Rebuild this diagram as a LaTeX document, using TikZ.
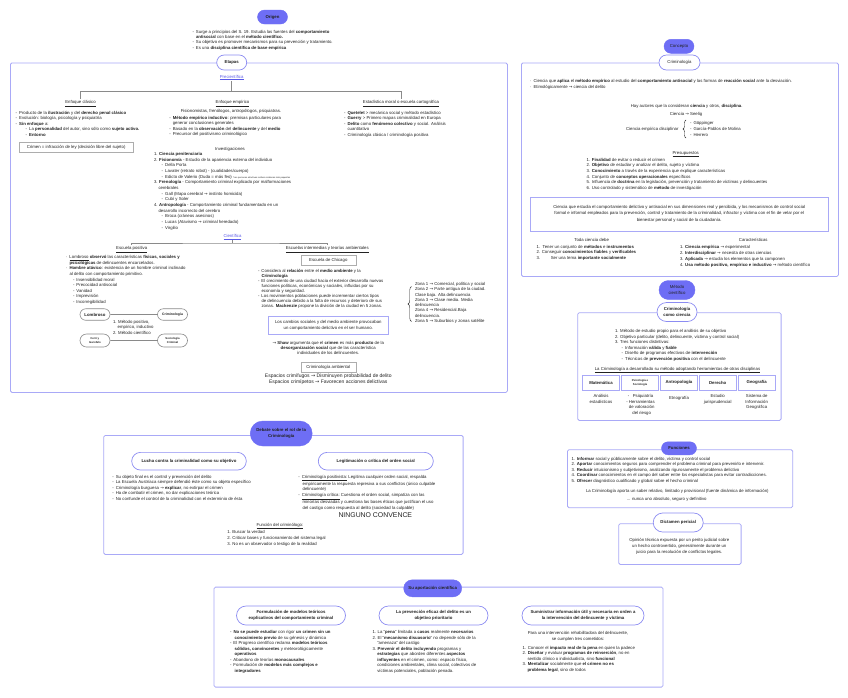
\documentclass[tikz,border=0pt]{standalone}
\usepackage{fontspec}
\setmainfont{Liberation Sans}
\newfontfamily\arrf{DejaVu Sans}
\usetikzlibrary{shapes.misc,decorations.pathreplacing}
\definecolor{pillfill}{HTML}{6E6EF5}
\definecolor{pillline}{HTML}{8C8CF2}
\definecolor{boxline}{HTML}{A9A9F7}
\definecolor{ink}{HTML}{222222}
\definecolor{linkc}{HTML}{5858E8}
\definecolor{greyline}{HTML}{8A8A8A}
\newcommand\ra{{\arrf\char"2192}}
\newcommand\fsz{\fontsize{4.3}{5.5}\selectfont}
\newcommand\bu{\makebox[3.5pt][l]{-}}
\newcommand\dt{\makebox[3.5pt][l]{·}}
\newcommand\ind[1]{\hspace*{#1pt}}
\begin{document}
\begin{tikzpicture}[x=1pt,y=-1pt,
  fpill/.style={rounded rectangle, fill=pillfill, draw=pillfill, text=ink, font=\fsz\bfseries, inner sep=1pt, align=center},
  wpill/.style={rounded rectangle, fill=white, draw=pillline, line width=0.7pt, text=ink, font=\fsz\bfseries, inner sep=1pt, align=center},
  gpill/.style={rounded rectangle, fill=white, draw=greyline, line width=0.6pt, text=ink, font=\fsz\bfseries, inner sep=1pt, align=center},
  bigframe/.style={draw=boxline, line width=0.8pt, rounded corners=1.5pt, inner sep=0pt, anchor=north west},
  gbox/.style={draw=greyline!70, line width=0.5pt, fill=white, font=\fsz, text=ink, inner sep=1pt},
  lbox/.style={draw=boxline, line width=0.6pt, font=\fsz, text=ink, align=center, inner sep=1pt},
  mbox/.style={draw=boxline, line width=0.7pt, font=\fsz\bfseries, text=ink, align=center, inner sep=0.5pt, minimum width=36.6pt, minimum height=14.3pt},
  txt/.style={inner sep=0pt, outer sep=0pt, font=\fsz, text=ink, align=left, anchor=north west},
  ctxt/.style={inner sep=0pt, outer sep=0pt, font=\fsz, text=ink, align=center},
  linktxt/.style={ctxt, text=linkc},
  mytree/.style={draw=greyline, line width=0.9pt},
  thinline/.style={draw=greyline, line width=0.6pt},
  bracestyle/.style={draw=ink, line width=0.4pt, decorate, decoration={brace, amplitude=3.5pt}}
]
\useasboundingbox (0,0) rectangle (848,697);
\fill[white] (0,0) rectangle (848,697);

% ===== ORIGEN =====
\node[fpill, minimum width=32pt, minimum height=14pt] (origen) at (272.5,17) {Origen};
\node[txt, font=\fontsize{4.3}{5.3}\selectfont] (origentxt) at (192.5,30.2) {%
\bu Surge a principios del S. 19. Estudia las fuentes del \textbf{comportamiento}\\
\ind{3.5}\textbf{antisocial} con base en el \textbf{método científico.}\\
\bu Su objetivo es promover mecanismos para su prevención y tratamiento.\\
\bu Es una \textbf{disciplina científica de base empírica}};

% ===== ETAPAS =====
\node[bigframe, minimum width=497pt, minimum height=329.5pt] (etapasbox) at (10,62.5) {};
\node[wpill, minimum width=32pt, minimum height=15pt] (etapas) at (231.7,62.5) {Etapas};
\node[linktxt] (precient) at (231.7,77.6) {\underline{Precientífica}};
\coordinate (t1) at (231.7,91.5);
\node[ctxt] (clasico) at (80.5,103.5) {\underline{Enfoque clásico}};
\node[ctxt] (empirico) at (232.5,103.5) {\underline{Enfoque empírico}};
\node[ctxt] (estad) at (401,103.5) {\underline{Estadística moral o escuela cartográfica}};
\draw[mytree, shorten <=1pt] (precient.south) -- (t1);
\draw[mytree, shorten <=1.5pt, shorten >=1.5pt] (clasico.north) |- (t1) -| (estad.north);

\node[txt] (clasicotxt) at (15.7,111.3) {%
\bu Producto de la \textbf{ilustración} y del \textbf{derecho penal clásico}\\
\bu Evolución: biología, psicología y psiquiatría\\
\bu \textbf{Sin enfoque} a:\\
\ind{10}\bu La \textbf{personalidad} del autor, sino sólo como \textbf{sujeto activo.}\\
\ind{10}\bu \textbf{Entorno}};
\node[gbox, minimum width=114pt, minimum height=9.5pt] (crimenbox) at (76.2,147.2) {Crimen = infracción de ley (decisión libre del sujeto)};

\node[ctxt] (fisio) at (231,111.8) {Fisionomistas, frenólogos, antropólogos, psiquiatras.};
\node[txt] (empiricotxt) at (169.3,116.3) {%
\bu \textbf{Método empírico inductivo}: premisas particulares para\\
\ind{3.5}generar conclusiones generales\\
\bu Basado en la \textbf{observación} del \textbf{delincuente} y del \textbf{medio}\\
\bu Precursor del positivismo criminológico};

\node[txt] (estadtxt) at (344,111.3) {%
\bu \textbf{Quetelet} > mecánica social y método estadístico\\
\bu \textbf{Guerry} > Primero mapas criminalidad en Europa\\
\bu \textbf{Delito} como \textbf{fenómeno colectivo} y social. Análisis\\
\ind{3.5}cuantitativo\\
\bu Criminología clásica / criminología positiva};

\node[ctxt] (invest) at (230,149.3) {Investigaciones};
\node[txt, font=\fontsize{4.3}{5.65}\selectfont] (investtxt) at (154,152.5) {%
1. \textbf{Ciencia penitenciaria}\\
2. \textbf{Fisionomía} - Estudio de la apariencia externa del individuo\\
\ind{7.7}\bu Della Porta\\
\ind{7.7}\bu Lavater (retrato robot) - (cualidades/cuerpo)\\
\ind{7.7}\bu Edicto de Valerio (Duda = más feo) {\fontsize{2.2}{3}\selectfont *Las personas atractivas reciben condenas más pequeñas}\\
3. \textbf{Frenología} - Comportamiento criminal explicado por malformaciones\\
\ind{4.5}cerebrales\\
\ind{7.7}\bu Gall (Mapa cerebral \ra{} instinto homicida)\\
\ind{7.7}\bu Cubí y Soler\\
4. \textbf{Antropología} - Comportamiento criminal fundamentado en un\\
\ind{4.5}desarrollo incorrecto del cerebro\\
\ind{7.7}\bu Broca (cráneos asesinos)\\
\ind{7.7}\bu Lucas (Atavismo \ra{} criminal heredado)\\
\ind{7.7}\bu Virgilio};

\node[linktxt] (cient) at (232.5,236.7) {\underline{Científica}};
\coordinate (t2) at (232.5,243);
\node[ctxt] (epos) at (131.7,249.3) {\underline{Escuela positiva}};
\node[ctxt] (einter) at (327.3,249.3) {\underline{Escuelas intermedias y teorías ambientales}};
\draw[mytree, shorten <=1pt] (cient.south) -- (t2);
\draw[mytree, shorten <=1.5pt, shorten >=1.5pt] (epos.north) |- (t2) -| (einter.north);

\node[txt, font=\fontsize{4.3}{5.6}\selectfont] (epostxt) at (66,255.5) {%
\dt\underline{Lombroso} \textbf{observó} las características \textbf{físicas, sociales y}\\
\ind{3.5}\textbf{psicológicas} de delincuentes encarcelados.\\
\dt\textbf{Hombre atávico}: existencia de un hombre criminal inclinado\\
\ind{3.5}al delito con comportamiento primitivo.\\
\ind{7}\bu Insensibilidad moral\\
\ind{7}\bu Precocidad antisocial\\
\ind{7}\bu Vanidad\\
\ind{7}\bu Imprevisión\\
\ind{7}\bu Incorregibilidad};

\node[gpill, minimum width=32pt, minimum height=11.5pt] (lombroso) at (95,314.5) {Lombroso};
\node[gpill, minimum width=32pt, minimum height=11.5pt, font=\fontsize{3.4}{4}\selectfont\bfseries] (crimi) at (172.5,314.5) {Criminología};
\node[gpill, minimum width=32pt, minimum height=13pt, font=\fontsize{2.8}{3.3}\selectfont\bfseries] (ferri) at (95,340.5) {Ferri y\\Garofalo};
\node[gpill, minimum width=32pt, minimum height=13pt, font=\fontsize{2.8}{3.3}\selectfont\bfseries] (socio) at (172.5,340.5) {Sociología\\Criminal};
\draw[thinline] (lombroso) -- (crimi);
\draw[thinline] (ferri) -- (socio);
\node[txt, font=\fontsize{4.3}{5.65}\selectfont] (metodos) at (113,319.9) {%
1. Método positivo,\\
\ind{4.7}empírico, inductivo\\
2. Método científico};

\node[gbox, minimum width=55pt, minimum height=10pt] (chicago) at (328.3,260) {Escuela de Chicago};
\node[txt, font=\fontsize{4.3}{4.95}\selectfont] (chicagotxt) at (258,269.2) {%
\bu Considera al \textbf{relación} entre el \textbf{medio ambiente} y la\\
\ind{3.5}\textbf{Criminología}\\
\bu El crecimiento de una ciudad hacia el exterior desarrolla nuevas\\
\ind{3.5}funciones políticas, económicas y sociales, influidas por su\\
\ind{3.5}economía y seguridad.\\
\bu Los movimientos poblaciones puede incrementar ciertos tipos\\
\ind{3.5}de delincuencia debido a la falta de recursos y deterioro de sus\\
\ind{3.5}zonas. \textbf{Mackenzie} propone la división de la ciudad en 5 zonas.};

\node[lbox, minimum width=120pt, minimum height=18pt, font=\fontsize{4.3}{6}\selectfont] (cambios) at (328.3,325) {Los cambios sociales y del medio ambiente provocaban\\un comportamiento delictivo en el ser humano.};
\node[ctxt, font=\fontsize{4.3}{5}\selectfont] (shaw) at (328.3,347.5) {\ra{} \textbf{Shaw} argumenta que el \textbf{crimen} es más \textbf{producto} de la\\\textbf{desorganización social} que de las característica\\individuales de los delincuentes.};
\node[gbox, minimum width=55pt, minimum height=10pt] (ambiental) at (328.3,367.7) {Criminología ambiental};
\node[ctxt, font=\fontsize{5}{5.4}\selectfont] (espacios) at (328.3,379.3) {Espacios crimífugos \ra{} Disminuyen probabilidad de delito\\Espacios crimípetos \ra{} Favorecen acciones delictivas};

\coordinate (zb1) at (411.5,321.5);
\coordinate (zb2) at (411.5,286.5);
\draw[bracestyle] (zb1) -- (zb2);
\node[txt, font=\fontsize{4.3}{5.3}\selectfont] (zonas) at (415,282.3) {%
Zona 1 \ra{} Comercial, política y social\\
Zona 2 \ra{} Parte antigua de la ciudad.\\
Clase baja. Alta delincuencia\\
Zona 3 \ra{} Clase media. Media\\
delincuencia\\
Zona 4 \ra{} Residencial.Baja\\
delincuencia.\\
Zona 5 \ra{} Suburbios y zonas satélite};

% ===== CONCEPTO =====
\node[fpill, minimum width=32pt, minimum height=14pt, font=\fsz] (concepto) at (679,46.3) {Concepto};
\node[bigframe, minimum width=317pt, minimum height=213.5pt] (conceptobox) at (521,62.5) {};
\node[wpill, minimum width=43pt, minimum height=15pt, font=\fsz] (criminologia) at (679.5,62.5) {Criminología};
\node[txt, font=\fontsize{4.3}{6}\selectfont] (defs) at (530,78.9) {%
\dt Ciencia que \textbf{aplica} el \textbf{método empírico} al estudio del \textbf{comportamiento antisocial} y las formas de \textbf{reacción social} ante la desviación.\\
\dt Etimológicamente \ra{} ciencia del delito};
\node[ctxt] (autores) at (686.7,106) {Hay autores que la consideran \textbf{ciencia} y otros, \textbf{disciplina}.};
\node[ctxt] (seelig) at (686,114.3) {Ciencia \ra{} Seelig};
\node[ctxt, anchor=east] (cedisc) at (678.5,129) {Ciencia empírica disciplinar};
\coordinate (cb1) at (686,138);
\coordinate (cb2) at (686,120);
\draw[bracestyle, decoration={brace, amplitude=3pt}] (cb1) -- (cb2);
\node[txt, font=\fontsize{4.3}{5.85}\selectfont] (autoreslist) at (690,121.5) {%
\bu Göppinger\\
\bu García-Pablos de Molina\\
\bu Herrero};
\node[ctxt] (presup) at (685.7,154) {\underline{Presupuestos}};
\node[txt, font=\fontsize{4.3}{5.65}\selectfont] (presuplist) at (586.7,158.2) {%
1. \textbf{Finalidad} de evitar o reducir el crimen\\
2. \textbf{Objetivo} de estudiar y analizar el delito, sujeto y víctima\\
3. \textbf{Conocimiento} a través de la experiencia que explique características\\
4. Conjunto de \textbf{conceptos operacionales} específicos\\
5. Influencia de \textbf{doctrina} en la legislación, prevención y tratamiento de víctimas y delincuentes\\
6. Uso controlado y sistemático de \textbf{método} de investigación};
\node[lbox, minimum width=298.3pt, minimum height=34pt, font=\fontsize{4.3}{6.3}\selectfont, line width=0.4pt] (defbox) at (679.2,213.7) {Ciencia que estudia el comportamiento delictivo y antisocial en sus dimensiones real y percibida, y los mecanismos de control social\\formal e informal empleados para la prevención, control y tratamiento de la criminalidad, infractor y víctima con el fin de velar por el\\bienestar personal y social de la ciudadanía.};
\node[ctxt] (toda) at (591.7,240) {Toda ciencia debe};
\node[txt, font=\fontsize{4.3}{5.8}\selectfont] (todalist) at (536.7,244.9) {%
1.\ \ Tener un conjunto de \textbf{métodos} e \textbf{instrumentos}\\
2. Conseguir \textbf{conocimientos fiables} y \textbf{verificables}\\
3.\hspace{10.5pt}Ser una tema \textbf{importante socialmente}};
\node[ctxt] (caract) at (753.3,240) {Características};
\node[txt, font=\fontsize{4.3}{6.1}\selectfont] (caractlist) at (680,244.9) {%
1. \textbf{Ciencia empírica} \ra{} experimental\\
2. \textbf{Interdisciplinar} \ra{} necesita de otras ciencias\\
3. \textbf{Aplicada} \ra{} estudia los elementos que la componen\\
4. \textbf{Usa método positivo, empírico e inductivo} \ra{} método científico};

% ===== METODO CIENTIFICO =====
\node[fpill, minimum width=38pt, minimum height=19pt, font=\fontsize{4.3}{5.2}\selectfont] (metodo) at (677,290) {Método\\científico};
\node[bigframe, minimum width=203.4pt, minimum height=107.7pt] (metodobox) at (577.3,312.3) {};
\node[wpill, minimum width=42pt, minimum height=19pt, font=\fontsize{4.3}{5.2}\selectfont\bfseries] (comociencia) at (677,312) {Criminología\\como ciencia};
\node[txt, font=\fontsize{4.3}{5.65}\selectfont] (metodolist) at (615,329.2) {%
1. Método de estudio propio para el análisis de su objetivo\\
2. Objetivo particular (delito, delincuente, víctima y control social)\\
3. Tres funciones distintivas:\\
\ind{6.7}\bu Información \textbf{válida} y \textbf{fiable}\\
\ind{6.7}\bu Diseño de programas efectivos de \textbf{intervención}\\
\ind{6.7}\bu Técnicas de \textbf{prevención positiva} con el delincuente};
\node[ctxt] (adopta) at (677.5,370) {\underline{La Criminología a desarrollado su método adoptando herramientas de otras disciplinas}};
\node[mbox] (mat) at (601,382.8) {Matemática};
\node[mbox, font=\fontsize{2.8}{3.4}\selectfont\bfseries] (psico) at (640,382.8) {Psicología e\\Sociología};
\node[mbox] (antro) at (679,382.8) {Antropología};
\node[mbox] (der) at (717.7,382.8) {Derecho};
\node[mbox] (geo) at (756.7,382.8) {Geografía};
\node[ctxt, anchor=north, font=\fontsize{4.3}{5.65}\selectfont] (matt) at (601,394.3) {Análisis\\estadísticos};
\node[ctxt, anchor=north, font=\fontsize{4.3}{5.65}\selectfont] (psicot) at (640.5,394.3) {-\ \ \ Psiquiatría\\- Herramientas\\\ \ de valoración\\\ \ del riesgo};
\node[ctxt, anchor=north] (antrot) at (679,396.3) {Etnografía};
\node[ctxt, anchor=north, font=\fontsize{4.3}{5.65}\selectfont] (dert) at (717.7,394.3) {Estudio\\jurisprudencial};
\node[ctxt, anchor=north, font=\fontsize{4.3}{5.65}\selectfont] (geot) at (756.7,394.3) {Sistema de\\Información\\Geográfica};

% ===== FUNCIONES =====
\node[bigframe, minimum width=225.3pt, minimum height=58pt] (funcbox) at (567,449.3) {};
\node[fpill, minimum width=37pt, minimum height=13pt] (funciones) at (679,448.3) {Funciones};
\node[txt, font=\fontsize{4.3}{5.6}\selectfont] (funclist) at (571.7,456.9) {%
1. \textbf{Informar} social y públicamente sobre el delito, víctima y control social\\
2. \textbf{Aportar} conocimientos seguros para comprender el problema criminal para prevenirlo e intervenir.\\
3. \textbf{Reducir} intuicionismo y subjetivismo, analizando rigurosamente el problema delictivo\\
4. \textbf{Coordinar} conocimientos en el campo del saber entre los especialistas para evitar contradicciones.\\
5. \textbf{Ofrecer} diagnóstico cualificado y global sobre el hecho criminal};
\node[ctxt] (relativo) at (677.3,491.3) {La Criminología aporta un saber relativo, limitado y provisional (fuente dinámica de información)};
\node[ctxt] (nunca) at (666.7,499) {... nunca uno absoluto, seguro y definitivo};

% ===== DICTAMEN =====
\node[bigframe, minimum width=122.4pt, minimum height=40.7pt] (dictbox) at (618.3,523.3) {};
\node[wpill, minimum width=52pt, minimum height=19pt] (dictamen) at (678.2,522.5) {Dictamen pericial};
\node[ctxt, font=\fontsize{4.3}{5.8}\selectfont] (dicttxt) at (679.3,546.6) {Opinión técnica expuesta por un perito judicial sobre\\un hecho controvertido, generalmente durante un\\juicio para la resolución de conflictos legales.};

% ===== DEBATE =====
\node[bigframe, minimum width=359.4pt, minimum height=119pt] (debatebox) at (103.3,435) {};
\node[fpill, minimum width=64pt, minimum height=25pt, font=\fontsize{4.3}{5.3}\selectfont\bfseries] (debate) at (281.2,433.5) {Debate sobre el rol de la\\Criminología};
\node[wpill, minimum width=116.6pt, minimum height=17.7pt] (lucha) at (189,461.2) {Lucha contra la criminalidad como su objetivo};
\node[wpill, minimum width=117pt, minimum height=17.7pt] (legit) at (375.8,461.2) {Legitimación o crítica del orden social};
\node[txt, font=\fontsize{4.3}{5.6}\selectfont] (luchatxt) at (112.3,474.9) {%
\bu Su objeto final es el control y prevención del delito\\
\bu La Escuela Austríaca siempre defendió éste como su objeto específico\\
\bu Criminología burguesa \ra{} \textbf{explicar}, no extirpar el crimen\\
\bu Ha de combatir el crimen, no dar explicaciones teórica\\
\bu No confunde el control de la criminalidad con el exterminio de ésta};
\node[txt, font=\fontsize{4.3}{5.65}\selectfont] (legittxt) at (298.3,474.9) {%
\bu \underline{Criminología positivista:} Legitima cualquier orden social, respalda\\
\ind{4.4}empíricamente la respuesta represiva a sus conflictos (único culpable\\
\ind{4.4}delincuente)\\
\bu \underline{Criminología crítica:} Cuestiona el orden social, simpatiza con las\\
\ind{4.4}minorías desviadas y cuestiona las bases éticas que justifican el uso\\
\ind{4.4}del castigo como respuesta al delito (sociedad la culpable)};
\node[ctxt, font=\fontsize{6.9}{8}\selectfont] (ninguno) at (375.3,515.3) {NINGUNO CONVENCE};
\node[ctxt] (funcrim) at (280,526) {\underline{Función del criminólogo:}};
\node[txt, font=\fontsize{4.3}{5.85}\selectfont] (funcrimlist) at (227.3,530.5) {%
1. Buscar la verdad\\
2. Criticar bases y funcionamiento del sistema legal\\
3. No es un observador o testigo de la realidad};

% ===== SU APORTACION =====
\node[bigframe, minimum width=449pt, minimum height=100pt] (aportbox) at (213.6,586.7) {};
\node[fpill, minimum width=60pt, minimum height=17pt] (aport) at (432.7,588.3) {Su aportación científica};
\node[wpill, minimum width=111pt, minimum height=19pt, font=\fontsize{4.3}{5.5}\selectfont\bfseries] (form) at (291,615.5) {Formulación de modelos teóricos\\explicativos del comportamiento criminal};
\node[wpill, minimum width=111pt, minimum height=19pt, font=\fontsize{4.3}{5.5}\selectfont\bfseries] (prev) at (433.5,615.5) {La prevención eficaz del delito es un\\objetivo prioritario};
\node[wpill, minimum width=124pt, minimum height=19pt, font=\fontsize{4.3}{5.5}\selectfont\bfseries] (sumin) at (583,615.5) {Suministrar información útil y necesaria en orden a\\la intervención del delincuente y víctima};
\node[txt, font=\fontsize{4.3}{5.5}\selectfont] (formtxt) at (230,630.5) {%
\bu \textbf{No se puede estudiar} con rigor \textbf{un crimen sin un}\\
\ind{4.7}\textbf{conocimiento previo} de su génesis y dinámica\\
\bu El Progreso científico reclama \textbf{modelos teóricos}\\
\ind{4.7}\textbf{sólidos, convincentes} y meteorológicamente\\
\ind{4.7}\textbf{operativos}\\
\bu Abandono de teorías \textbf{monocausales}\\
\bu Formulación de \textbf{modelos más complejos e}\\
\ind{4.7}\textbf{integradores}};
\node[txt, font=\fontsize{4.3}{5.5}\selectfont] (prevtxt) at (372.5,630.5) {%
1. La "\textbf{pena}" limitada a \textbf{casos} realmente \textbf{necesarios}\\
2. El "\textbf{mecanismo disuasorio}" no depende sólo de la\\
\ind{4.8}"amenaza" del castigo\\
3. \textbf{Prevenir el delito incluyendo} programas y\\
\ind{4.8}\textbf{estrategias} que aborden diferentes \textbf{aspectos}\\
\ind{4.8}\textbf{influyentes} en el crimen, como: espacio físico,\\
\ind{4.8}condiciones ambientales, clima social, colectivos de\\
\ind{4.8}víctimas potenciales, población penada.};
\node[ctxt, font=\fontsize{4.3}{5.7}\selectfont] (sumintro) at (578,636.2) {Para una intervención rehabilitadora del delincuente,\\se cumplen tres cometidos:};
\node[txt, font=\fontsize{4.3}{5.65}\selectfont] (sumtxt) at (522.7,645.9) {%
1. Conocer el \textbf{impacto real de la pena} en quien la padece\\
2. \textbf{Diseñar} y evaluar \textbf{programas de reinserción}, no en\\
\ind{4.8}sentido clínico o individualista, sino \textbf{funcional}\\
3. \textbf{Mentalizar} socialmente que \textbf{el crimen no es}\\
\ind{4.8}\textbf{problema legal}, sino de todos};
\end{tikzpicture}
\end{document}
